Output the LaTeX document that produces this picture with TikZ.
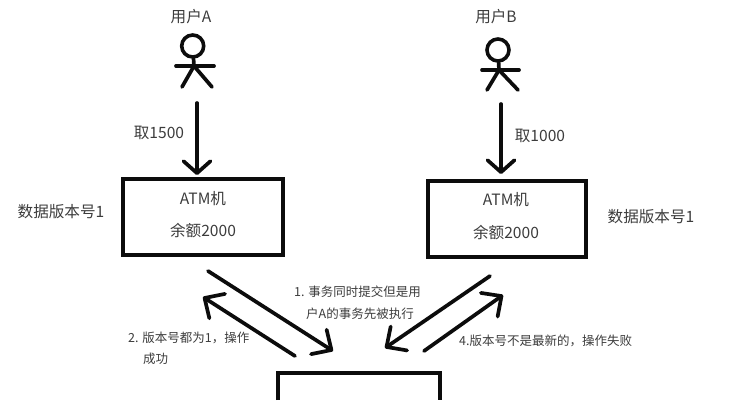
\documentclass[tikz,border=0pt]{standalone}
\usepackage{fontspec}
\setmainfont{Noto Sans CJK SC}
\usetikzlibrary{arrows.meta}
\definecolor{inkc}{HTML}{0C0C0C}
\definecolor{textc}{HTML}{3C3C3C}
\tikzset{
  line/.style={draw=inkc,line width=3.7pt,line cap=round},
  conn/.style={line,-{Straight Barb[length=12pt,width=27pt,line width=3.7pt,round]}},
  diag/.style={line,-{Straight Barb[length=15pt,width=29pt,line width=3.7pt,round]}},
  boxn/.style={draw=inkc,line width=4pt,minimum width=#1,minimum height=76pt,inner sep=0pt},
  headn/.style={circle,draw=inkc,line width=3.6pt,minimum size=22pt,inner sep=0pt},
  big/.style={text=textc,font=\fontsize{15.6}{16}\selectfont,inner sep=0pt,anchor=center},
  small/.style={text=textc,font=\fontsize{12.5}{13}\selectfont,inner sep=0pt,anchor=west}
}
\begin{document}
\begin{tikzpicture}[x=1pt,y=-1pt]
\useasboundingbox (0,0) rectangle (746,400);
% boxes
\node[boxn=160pt] (boxA) at (203,217) {};
\node[boxn=158pt] (boxB) at (507,218.5) {};
\path[draw=inkc,line width=4pt] (278,400) -- (278,372.5) -- (440,372.5) -- (440,400);
% user A
\node[headn] (headA) at (192.7,46) {};
\coordinate (armAl) at (176,66); \coordinate (armAr) at (214,66);
\coordinate (hipA) at (194,66); \coordinate (legAl) at (182,87); \coordinate (legAr) at (212,87);
\draw[line] (headA) -- (hipA);
\draw[line] (armAl) -- (armAr);
\draw[line] (legAl) -- (hipA) -- (legAr);
% user B
\node[headn] (headB) at (498,50) {};
\coordinate (armBl) at (482,70); \coordinate (armBr) at (519,70);
\coordinate (hipB) at (499,70); \coordinate (legBl) at (487,90); \coordinate (legBr) at (518,90);
\draw[line] (headB) -- (hipB);
\draw[line] (armBl) -- (armBr);
\draw[line] (legBl) -- (hipB) -- (legBr);
% arrows down
\coordinate (fromA) at (197,103); \coordinate (intoA) at (197,175);
\coordinate (fromB) at (501,104); \coordinate (intoB) at (501,174);
\draw[conn] (fromA) -- (intoA);
\draw[conn] (fromB) -- (intoB);
% diagonal arrows
\coordinate (a1s) at (208,271); \coordinate (a1e) at (333,351);
\coordinate (a2s) at (295,356); \coordinate (a2e) at (203,297);
\coordinate (a3s) at (490,276); \coordinate (a3e) at (385,348);
\coordinate (a4s) at (424,351); \coordinate (a4e) at (503,295);
\draw[diag] (a1s) -- (a1e);
\draw[diag] (a2s) -- (a2e);
\draw[diag] (a3s) -- (a3e);
\draw[diag] (a4s) -- (a4e);
% text
\node[big] (tUA) at (191,17) {用户A};
\node[big] (tUB) at (496,17) {用户B};
\node[big] (tTA) at (159,133) {取1500};
\node[big] (tTB) at (540,136) {取1000};
\node[big] (tA1) at (203,199) {ATM机};
\node[big] (tA2) at (203,231) {余额2000};
\node[big] (tB1) at (506,200) {ATM机};
\node[big] (tB2) at (506,233) {余额2000};
\node[big] (tVA) at (61,212) {数据版本号1};
\node[big] (tVB) at (651,217) {数据版本号1};
\node[small] (l1a) at (294,292) {1. 事务同时提交但是用};
\node[small] (l1b) at (306,314) {户A的事务先被执行};
\node[small] (l2a) at (128,338) {2. 版本号都为1，操作};
\node[small] (l2b) at (143,359) {成功};
\node[small] (l4) at (459,341) {4.版本号不是最新的，操作失败};
\end{tikzpicture}
\end{document}
